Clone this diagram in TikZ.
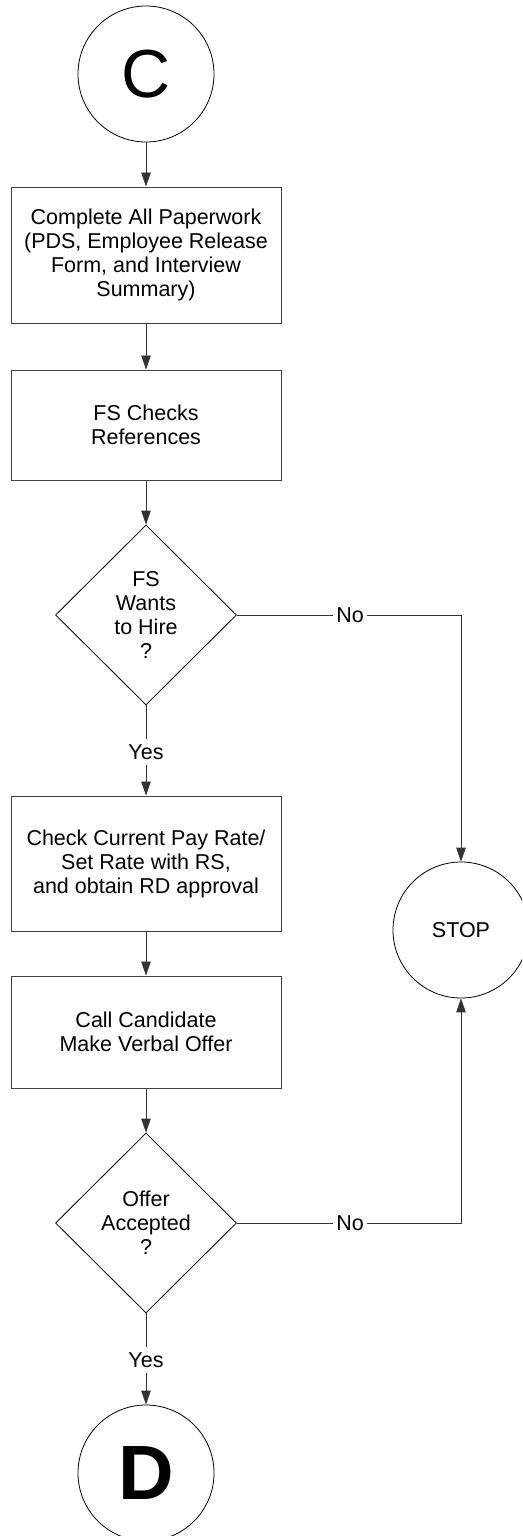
\documentclass[tikz,border=0pt]{standalone}
\usepackage{fontspec}
\setmainfont{Liberation Sans}
\usetikzlibrary{shapes.geometric,arrows.meta}
\begin{document}
\begin{tikzpicture}[x=1pt,y=-1pt,
  txt/.style={font=\fontsize{21.5}{24}\selectfont,align=center},
  procbox/.style={txt,draw=black!75,line width=1pt,minimum width=270pt,inner sep=0pt},
  decision/.style={txt,draw=black,line width=0.8pt,diamond,minimum width=181pt,minimum height=180pt,inner sep=0pt},
  term/.style={draw=black,line width=0.8pt,circle,minimum size=136pt,inner sep=0pt},
  conn/.style={draw=black!80,line width=0.9pt},
  arr/.style={conn,-{Triangle[length=14pt,width=9.5pt]}},
  vlbl/.style={txt,inner xsep=2pt,inner ysep=5pt},
  hlbl/.style={txt,inner xsep=3pt,inner ysep=2pt}]
\clip (0,0) rectangle (522,1536);
\node[term,font=\fontsize{68}{68}\selectfont] (C) at (146,74) {C};
\node[procbox,minimum height=136pt] (b1) at (146,255) {Complete All Paperwork\\(PDS, Employee Release\\Form, and Interview\\Summary)};
\node[procbox,minimum height=110pt] (b2) at (146,425) {FS Checks\\References};
\node[decision] (d1) at (146,615) {FS\\Wants\\to Hire\\?};
\node[hlbl] (n1) at (350,615) {No};
\node[vlbl] (y1) at (146,752) {Yes};
\node[procbox,minimum height=135pt] (b3) at (146,863.5) {Check Current Pay Rate/\\Set Rate with RS,\\and obtain RD approval};
\node[procbox,minimum height=112pt] (b4) at (146,1032) {Call Candidate\\Make Verbal Offer};
\node[decision] (d2) at (146,1223) {Offer\\Accepted\\?};
\node[hlbl] (n2) at (350,1223) {No};
\node[vlbl] (y2) at (146,1360) {Yes};
\node[term,txt] (stop) at (461,930) {STOP};
\node[term,font=\fontsize{77}{77}\selectfont\bfseries] (D) at (146,1473) {D};

\draw[arr] (C) -- (b1);
\draw[arr] (b1) -- (b2);
\draw[arr] (b2) -- (d1);
\draw[conn] (d1.east) -- (n1.west);
\draw[arr] (n1.east) -| (stop.north);
\draw[conn] (d1.south) -- (y1.north);
\draw[arr] (y1.south) -- (b3.north);
\draw[arr] (b3) -- (b4);
\draw[arr] (b4) -- (d2);
\draw[conn] (d2.east) -- (n2.west);
\draw[arr] (n2.east) -| (stop.south);
\draw[conn] (d2.south) -- (y2.north);
\draw[arr] (y2.south) -- (D.north);
\end{tikzpicture}
\end{document}
